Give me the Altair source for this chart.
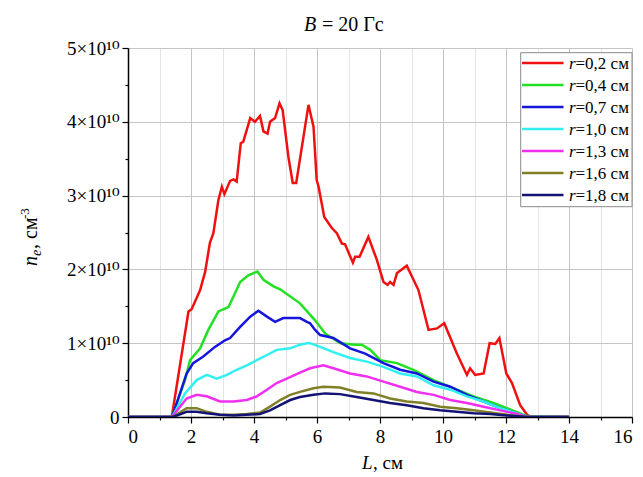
import altair as alt
import pandas as pd

# series labels and colours
labels = ["r=0,2 см", "r=0,4 см", "r=0,7 см", "r=1,0 см", "r=1,3 см", "r=1,6 см", "r=1,8 см"]
colors = ["#f01010", "#22e022", "#1515dd", "#33f0f0", "#f030f0", "#808028", "#131375"]

# L (cm) and n_e (x1e10 cm^-3)
x_r02 = [0, 1.39, 1.92, 2.02, 2.29, 2.45, 2.60, 2.71, 2.87, 2.98, 3.06, 3.24, 3.35, 3.45, 3.58, 3.66, 3.88, 4.03,
         4.19, 4.30, 4.43, 4.51, 4.67, 4.81, 4.91, 5.09, 5.23, 5.34, 5.73, 5.89, 5.99, 6.05, 6.23, 6.47, 6.63, 6.79,
         6.89, 7.14, 7.21, 7.35, 7.63, 7.90, 8.11, 8.24, 8.32, 8.43, 8.54, 8.85, 9.22, 9.54, 9.81, 10.04, 10.44,
         10.76, 10.86, 11.02, 11.29, 11.48, 11.66, 11.79, 12.01, 12.19, 12.45, 12.67, 12.80, 14]
y_r02 = [0, 0, 1.43, 1.46, 1.72, 1.97, 2.36, 2.49, 2.94, 3.12, 3.02, 3.20, 3.22, 3.19, 3.71, 3.73, 4.05, 4.00,
         4.08, 3.87, 3.84, 4.00, 4.05, 4.25, 4.16, 3.53, 3.17, 3.17, 4.23, 3.93, 3.21, 3.12, 2.71, 2.56, 2.49, 2.35,
         2.34, 2.09, 2.17, 2.17, 2.44, 2.13, 1.83, 1.79, 1.83, 1.79, 1.95, 2.05, 1.72, 1.18, 1.20, 1.27, 0.86,
         0.57, 0.66, 0.57, 0.59, 1.00, 0.99, 1.07, 0.59, 0.46, 0.16, 0.03, 0, 0]

x_r04 = [0, 1.39, 1.81, 1.97, 2.29, 2.55, 2.87, 3.19, 3.40, 3.56, 3.82, 4.11, 4.30, 4.62, 4.83, 5.46, 5.94, 6.26,
         6.74, 7.21, 7.42, 7.69, 8.01, 8.54, 9.06, 9.70, 10.33, 10.97, 11.60, 12.03, 12.67, 14]
y_r04 = [0, 0, 0.50, 0.77, 0.93, 1.18, 1.43, 1.49, 1.68, 1.83, 1.92, 1.97, 1.86, 1.77, 1.73, 1.54, 1.31, 1.13,
         1.00, 0.98, 0.98, 0.91, 0.77, 0.73, 0.64, 0.50, 0.39, 0.28, 0.19, 0.12, 0.01, 0]

x_r07 = [0, 1.39, 1.44, 1.86, 2.07, 2.39, 2.76, 3.08, 3.24, 3.56, 3.88, 4.14, 4.41, 4.67, 4.93, 5.36, 5.46, 5.68,
         5.78, 5.94, 6.10, 6.52, 7.05, 7.53, 8.11, 8.64, 9.17, 9.70, 10.23, 10.76, 11.29, 11.82, 12.35, 12.67, 14]
y_r07 = [0, 0, 0.05, 0.59, 0.73, 0.82, 0.95, 1.04, 1.07, 1.22, 1.36, 1.44, 1.36, 1.29, 1.34, 1.34, 1.34, 1.29,
         1.27, 1.18, 1.11, 1.07, 0.93, 0.86, 0.73, 0.64, 0.59, 0.48, 0.41, 0.30, 0.21, 0.12, 0.05, 0, 0]

x_r10 = [0, 1.39, 1.44, 1.81, 2.18, 2.50, 2.82, 3.14, 3.45, 3.77, 4.09, 4.41, 4.72, 5.15, 5.46, 5.68, 5.78, 6.10,
         6.52, 7.05, 7.58, 8.11, 8.64, 9.17, 9.70, 10.23, 10.76, 11.29, 11.82, 12.35, 12.67, 14]
y_r10 = [0, 0, 0.03, 0.32, 0.50, 0.57, 0.52, 0.57, 0.64, 0.70, 0.77, 0.84, 0.91, 0.93, 0.98, 1.00, 1.00, 0.95,
         0.88, 0.80, 0.75, 0.68, 0.59, 0.55, 0.43, 0.37, 0.28, 0.21, 0.12, 0.05, 0, 0]

x_r13 = [0, 1.39, 1.49, 1.86, 2.18, 2.50, 2.92, 3.35, 3.77, 4.09, 4.41, 4.72, 5.04, 5.46, 5.78, 6.20, 6.52, 7.05,
         7.58, 8.11, 8.64, 9.17, 9.70, 10.23, 10.76, 11.29, 11.82, 12.35, 12.67, 14]
y_r13 = [0, 0, 0.05, 0.25, 0.30, 0.28, 0.21, 0.21, 0.23, 0.28, 0.37, 0.46, 0.52, 0.60, 0.66, 0.70, 0.66, 0.59,
         0.55, 0.48, 0.41, 0.34, 0.30, 0.23, 0.19, 0.14, 0.09, 0.04, 0, 0]

x_r16 = [0, 1.39, 1.49, 1.86, 2.18, 2.50, 2.92, 3.35, 3.77, 4.19, 4.51, 4.83, 5.15, 5.46, 5.89, 6.20, 6.73, 7.26,
         7.79, 8.32, 8.85, 9.38, 9.91, 10.44, 10.97, 11.50, 12.03, 12.67, 14]
y_r16 = [0, 0, 0.02, 0.12, 0.12, 0.07, 0.03, 0.03, 0.04, 0.06, 0.14, 0.23, 0.30, 0.34, 0.39, 0.41, 0.40, 0.34,
         0.32, 0.25, 0.21, 0.19, 0.14, 0.12, 0.09, 0.06, 0.03, 0, 0]

x_r18 = [0, 1.39, 1.49, 1.86, 2.18, 2.50, 2.92, 3.35, 3.77, 4.19, 4.51, 4.83, 5.15, 5.46, 5.89, 6.26, 6.73, 7.26,
         7.79, 8.32, 8.85, 9.38, 9.91, 10.44, 10.97, 11.50, 12.03, 12.67, 14]
y_r18 = [0, 0, 0.01, 0.07, 0.07, 0.05, 0.03, 0.02, 0.03, 0.04, 0.09, 0.16, 0.23, 0.27, 0.30, 0.32, 0.31, 0.27,
         0.23, 0.19, 0.16, 0.12, 0.09, 0.07, 0.05, 0.04, 0.02, 0, 0]

xs = [x_r02, x_r04, x_r07, x_r10, x_r13, x_r16, x_r18]
ys = [y_r02, y_r04, y_r07, y_r10, y_r13, y_r16, y_r18]

rows = []
for i, (lab, xv, yv) in enumerate(zip(labels, xs, ys)):
    for a, b in zip(xv, yv):
        rows.append({"L": a, "n": b, "series": lab, "k": i})
df = pd.DataFrame(rows)

FONT = "'Liberation Serif', 'Times New Roman', Times, 'DejaVu Serif', serif"

x_axis = alt.Axis(
    values=list(range(0, 17)),
    labelExpr="datum.value % 2 === 0 ? datum.label : ''",
    labelFont=FONT, labelFontSize=19, labelColor="black", labelPadding=4,
    tickSize={"condition": {"test": "datum.value % 2 === 0", "value": 6}, "value": 3},
    tickColor="black", domainColor="black", domainWidth=1.5, tickWidth=1.2,
    gridColor={"condition": {"test": "datum.value % 2 === 0", "value": "#c4c4c4"}, "value": "#e4e4e4"},
    title=None,
)
y_axis = alt.Axis(
    values=[v / 2 for v in range(0, 11)],
    labelExpr="datum.value === 0 ? '0' : (datum.value % 1 === 0 ? datum.value + '×10¹⁰' : '')",
    labelFont=FONT, labelFontSize=19, labelColor="black", labelPadding=3,
    tickSize={"condition": {"test": "datum.value % 1 === 0", "value": 6}, "value": 3},
    tickColor="black", domainColor="black", domainWidth=1.5, tickWidth=1.2,
    gridColor="#c4c4c4",
    gridOpacity={"condition": {"test": "datum.value % 1 === 0", "value": 1}, "value": 0},
    title=None,
)

lines = alt.Chart(df).mark_line(strokeWidth=2.5, clip=True).encode(
    x=alt.X("L:Q", scale=alt.Scale(domain=[0, 16], nice=False), axis=x_axis),
    y=alt.Y("n:Q", scale=alt.Scale(domain=[0, 5], nice=False), axis=y_axis),
    color=alt.Color("series:N", scale=alt.Scale(domain=labels, range=colors), legend=None),
    order="k:Q",
)

# ---- legend (built from the same label / colour lists) ----
leg_df = pd.DataFrame({
    "k": list(range(len(labels))),
    "head": [s[0] for s in labels],
    "tail": [s[1:] for s in labels],
    "col": colors,
})
leg_y = alt.Y("k:Q", scale=alt.Scale(domain=[0, len(labels) - 1], range=[15, 147]), axis=None)

leg_box = alt.Chart(pd.DataFrame({"d": [0]})).mark_rect(
    fill="white", stroke="#8a8a8a", strokeWidth=1
).encode(x=alt.value(392.7), x2=alt.value(504), y=alt.value(4.7), y2=alt.value(158.7))

leg_sym = alt.Chart(leg_df).mark_rule(strokeWidth=2.5).encode(
    x=alt.value(394), x2=alt.value(435.5), y=leg_y,
    color=alt.Color("col:N", scale=None),
)
leg_head = alt.Chart(leg_df).mark_text(
    font=FONT, fontSize=17, fontStyle="italic", align="left", baseline="middle", color="black", dy=1
).encode(x=alt.value(441), y=leg_y, text="head:N")
leg_tail = alt.Chart(leg_df).mark_text(
    font=FONT, fontSize=17, align="left", baseline="middle", color="black", dy=1
).encode(x=alt.value(447.5), y=leg_y, text="tail:N")

one = pd.DataFrame({"d": [0]})

def txt(s, x, y, size=19, style="normal", angle=0):
    return alt.Chart(one).mark_text(
        text=s, font=FONT, fontSize=size, fontStyle=style, align="left",
        baseline="alphabetic", angle=angle, color="black",
    ).encode(x=alt.value(x), y=alt.value(y))

title_parts = [
    txt("B", 176, -17, 20, "italic"),
    txt("= 20 Гс", 194, -17, 20),
]
xtitle_parts = [
    txt("L", 234, 421, 19, "italic"),
    txt(", см", 245, 421, 19),
]
ytitle_parts = [
    txt("n", -91, 218, 20, "italic", 270),
    txt("e", -87, 208, 14, "italic", 270),
    txt(", см", -91, 201, 20, "normal", 270),
    txt("-3", -99, 171, 13, "normal", 270),
]

chart = alt.layer(
    lines, leg_box, leg_sym, leg_head, leg_tail, *title_parts, *xtitle_parts, *ytitle_parts
).resolve_scale(y="independent", color="independent").properties(
    width=504, height=369,
    autosize=alt.AutoSizeParams(type="none"),
    padding={"left": 120, "top": 40, "right": 3, "bottom": 60},
).configure_view(stroke="black", strokeWidth=1.5).configure(background="white")

chart.save("out.html", embed_options={"renderer": "svg", "actions": False})
